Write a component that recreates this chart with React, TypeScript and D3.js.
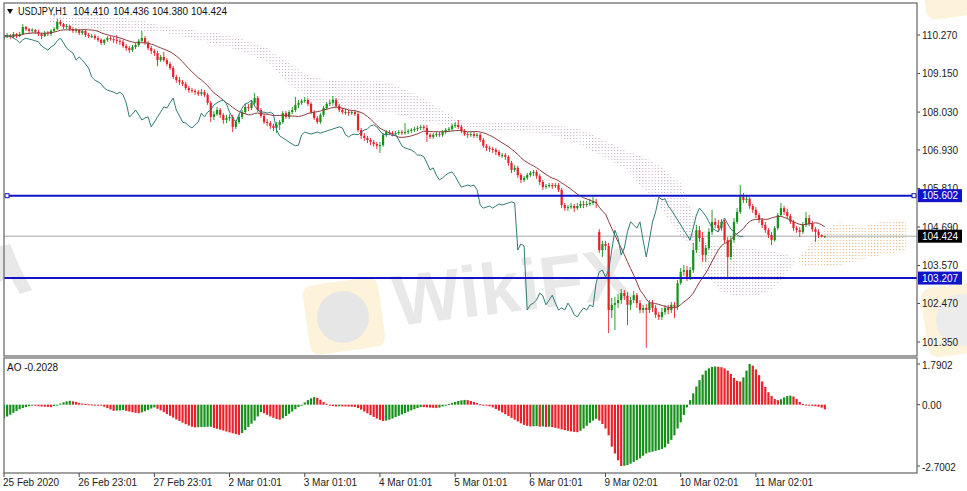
import React, { useEffect, useRef } from "react"
import * as d3 from "d3"

const symbol = "USDJPY,H1"
const lastBarText = ["104.410", "104.436", "104.380", "104.424"]
const aoLabel = "AO -0.2028"

// hourly closes, 25 Feb 2020 .. 11 Mar 2020
const closes = [
  110.21, 110.27, 110.21, 110.30, 110.24, 110.30, 110.50, 110.44, 110.39, 110.42,
  110.36, 110.30, 110.24, 110.33, 110.30, 110.39, 110.44, 110.65, 110.59, 110.50,
  110.53, 110.44, 110.39, 110.42, 110.33, 110.39, 110.27, 110.24, 110.24, 110.18,
  110.13, 110.04, 110.13, 110.18, 110.15, 110.13, 110.10, 110.07, 109.95, 109.89,
  109.83, 109.92, 109.98, 110.10, 110.18, 110.04, 109.89, 109.81, 109.75, 109.54,
  109.63, 109.54, 109.43, 109.31, 109.05, 108.96, 108.91, 108.85, 108.73, 108.67,
  108.64, 108.61, 108.56, 108.61, 108.53, 108.30, 107.89, 107.97, 108.09, 107.95,
  107.80, 107.86, 107.89, 107.60, 107.74, 107.89, 108.03, 108.18, 108.15, 108.30,
  108.44, 108.09, 107.92, 107.74, 107.71, 107.63, 107.57, 107.66, 107.74, 108.00,
  107.89, 108.03, 108.09, 108.24, 108.30, 108.35, 108.38, 108.27, 108.03, 107.86,
  107.74, 107.95, 108.15, 108.27, 108.30, 108.38, 108.21, 108.09, 108.03, 108.03,
  108.00, 108.03, 107.97, 107.51, 107.34, 107.28, 107.22, 107.16, 107.10, 107.05,
  107.07, 107.37, 107.45, 107.42, 107.39, 107.42, 107.45, 107.42, 107.45, 107.48,
  107.51, 107.54, 107.57, 107.60, 107.57, 107.37, 107.31, 107.37, 107.39, 107.37,
  107.45, 107.51, 107.54, 107.63, 107.66, 107.60, 107.48, 107.39, 107.37, 107.39,
  107.34, 107.37, 107.22, 107.05, 106.99, 106.96, 106.93, 106.87, 106.78, 106.78,
  106.73, 106.55, 106.35, 106.41, 106.20, 106.06, 106.12, 106.20, 106.26, 106.29,
  106.17, 106.00, 105.85, 105.88, 105.91, 105.88, 105.91, 105.77, 105.33, 105.24,
  105.27, 105.30, 105.24, 105.30, 105.36, 105.33, 105.36, 105.39, 105.42, 105.39,
  104.02, 104.20, 104.14, 102.28, 102.43, 102.48, 102.57, 102.77, 102.69, 102.43,
  102.57, 102.71, 102.48, 102.28, 102.34, 102.28, 102.48, 102.34, 102.14, 102.08,
  102.22, 102.34, 102.28, 102.43, 102.37, 103.06, 103.39, 103.44, 103.24, 103.44,
  104.02, 104.60, 104.37, 103.88, 104.08, 104.55, 104.84, 104.75, 104.66, 104.84,
  104.31, 103.82, 104.31, 104.84, 105.13, 105.56, 105.48, 105.51, 105.30, 105.19,
  105.04, 104.90, 104.75, 104.60, 104.46, 104.31, 104.66, 105.04, 105.24, 105.13,
  105.01, 104.84, 104.66, 104.60, 104.55, 104.75, 104.95, 104.78, 104.63, 104.55,
  104.46, 104.41, 104.424,
]

const highs = [
  110.27, 110.33, 110.30, 110.36, 110.33, 110.36, 110.59, 110.53, 110.47, 110.47,
  110.44, 110.42, 110.33, 110.39, 110.39, 110.44, 110.50, 110.74, 110.71, 110.62,
  110.59, 110.56, 110.50, 110.47, 110.44, 110.44, 110.42, 110.33, 110.30, 110.30,
  110.24, 110.18, 110.15, 110.24, 110.24, 110.21, 110.27, 110.15, 110.13, 110.01,
  109.95, 109.98, 110.04, 110.15, 110.39, 110.24, 110.10, 109.95, 109.86, 109.81,
  109.69, 109.78, 109.60, 109.49, 109.37, 109.11, 109.05, 108.96, 108.91, 108.79,
  108.73, 108.70, 108.67, 108.70, 108.67, 108.59, 108.35, 108.06, 108.18, 108.15,
  108.00, 107.95, 107.97, 107.95, 107.80, 107.97, 108.09, 108.27, 108.27, 108.38,
  108.59, 108.50, 108.15, 107.97, 107.83, 107.77, 107.69, 107.74, 107.80, 108.06,
  108.06, 108.09, 108.18, 108.47, 108.38, 108.41, 108.47, 108.44, 108.32, 108.09,
  107.92, 108.00, 108.21, 108.32, 108.38, 108.50, 108.44, 108.27, 108.15, 108.12,
  108.09, 108.09, 108.09, 108.03, 107.57, 107.42, 107.34, 107.28, 107.22, 107.16,
  107.16, 107.42, 107.51, 107.51, 107.48, 107.48, 107.51, 107.51, 107.71, 107.54,
  107.57, 107.60, 107.63, 107.66, 107.66, 107.66, 107.42, 107.42, 107.45, 107.45,
  107.51, 107.57, 107.60, 107.69, 107.74, 107.80, 107.66, 107.54, 107.45, 107.45,
  107.45, 107.42, 107.42, 107.28, 107.10, 107.05, 107.02, 106.99, 106.93, 106.84,
  106.84, 106.78, 106.61, 106.49, 106.47, 106.26, 106.17, 106.26, 106.32, 106.35,
  106.35, 106.23, 106.06, 105.94, 105.97, 105.97, 105.97, 105.97, 105.83, 105.39,
  105.33, 105.39, 105.36, 105.39, 105.45, 105.45, 105.45, 105.51, 105.56, 105.51,
  104.63, 104.29, 104.29, 104.23, 102.63, 102.66, 102.74, 102.89, 102.86, 102.80,
  102.66, 102.83, 102.77, 102.57, 102.43, 102.45, 102.57, 102.57, 102.43, 102.22,
  102.34, 102.43, 102.43, 102.51, 102.51, 103.15, 103.50, 103.59, 103.56, 103.53,
  104.23, 104.75, 104.72, 104.55, 104.17, 104.66, 105.19, 104.95, 104.90, 104.92,
  104.90, 104.40, 104.43, 104.95, 105.24, 105.91, 105.68, 105.62, 105.56, 105.36,
  105.27, 105.10, 104.95, 104.84, 104.66, 104.55, 104.72, 105.10, 105.39, 105.30,
  105.22, 105.07, 104.90, 104.72, 104.69, 104.84, 105.13, 105.04, 104.87, 104.69,
  104.63, 104.47, 104.436,
]

const lows = [
  110.13, 110.18, 110.15, 110.18, 110.18, 110.21, 110.27, 110.39, 110.33, 110.33,
  110.30, 110.24, 110.15, 110.21, 110.24, 110.24, 110.36, 110.42, 110.53, 110.44,
  110.44, 110.39, 110.33, 110.33, 110.27, 110.27, 110.21, 110.18, 110.18, 110.13,
  110.07, 109.98, 109.98, 110.07, 110.10, 110.04, 110.01, 109.98, 109.89, 109.81,
  109.75, 109.78, 109.86, 109.92, 110.07, 109.98, 109.83, 109.72, 109.66, 109.37,
  109.49, 109.49, 109.37, 109.25, 108.99, 108.88, 108.82, 108.79, 108.67, 108.59,
  108.59, 108.53, 108.50, 108.50, 108.47, 108.24, 107.74, 107.80, 107.92, 107.86,
  107.69, 107.71, 107.77, 107.45, 107.54, 107.69, 107.83, 107.97, 108.06, 108.09,
  108.24, 108.03, 107.86, 107.69, 107.63, 107.54, 107.48, 107.42, 107.51, 107.69,
  107.83, 107.83, 107.97, 108.03, 108.15, 108.24, 108.30, 108.21, 107.97, 107.80,
  107.69, 107.69, 107.89, 108.09, 108.21, 108.24, 108.15, 108.03, 107.97, 107.95,
  107.92, 107.95, 107.92, 107.45, 107.25, 107.19, 107.13, 107.07, 107.02, 106.96,
  106.84, 107.02, 107.31, 107.37, 107.34, 107.34, 107.37, 107.37, 107.37, 107.39,
  107.42, 107.45, 107.48, 107.51, 107.51, 107.16, 107.25, 107.25, 107.31, 107.31,
  107.31, 107.39, 107.45, 107.48, 107.57, 107.54, 107.42, 107.34, 107.28, 107.31,
  107.28, 107.28, 107.16, 106.99, 106.90, 106.87, 106.84, 106.78, 106.73, 106.70,
  106.64, 106.47, 106.26, 106.29, 106.12, 105.97, 106.00, 106.06, 106.15, 106.17,
  106.09, 105.91, 105.77, 105.80, 105.83, 105.80, 105.83, 105.71, 105.24, 105.16,
  105.16, 105.22, 105.13, 105.19, 105.24, 105.24, 105.27, 105.30, 105.33, 105.24,
  103.94, 103.82, 104.02, 101.61, 102.05, 101.70, 102.34, 102.45, 102.57, 101.84,
  102.28, 102.48, 102.34, 102.19, 102.19, 101.18, 102.19, 102.22, 102.05, 101.99,
  101.99, 102.14, 102.16, 102.19, 102.05, 102.28, 103.01, 103.27, 103.12, 103.15,
  103.36, 103.94, 104.26, 103.68, 103.68, 104.02, 104.46, 104.66, 104.55, 104.58,
  104.23, 103.24, 103.73, 104.23, 104.78, 105.07, 105.39, 105.39, 105.22, 105.10,
  104.95, 104.81, 104.66, 104.52, 104.37, 104.17, 104.26, 104.60, 104.98, 105.04,
  104.92, 104.78, 104.58, 104.52, 104.40, 104.49, 104.69, 104.72, 104.55, 104.26,
  104.37, 104.40, 104.38,
]

// an open is the previous close except at the first bar and the Monday gap
const gapOpens: Record<number, number> = { 0: 110.18, 190: 104.55 }

// Awesome Oscillator, one value per bar
const aoValues = [
  -0.60, -0.52, -0.44, -0.36, -0.28, -0.20, -0.15, -0.11, -0.07, -0.04,
  -0.05, -0.07, -0.08, -0.09, -0.10, -0.11, -0.06, -0.01, 0.05, 0.10,
  0.14, 0.17, 0.15, 0.12, 0.08, 0.05, 0.03, 0.02, 0.01, 0.00,
  -0.02, -0.04, -0.09, -0.15, -0.21, -0.27, -0.26, -0.25, -0.24, -0.27,
  -0.30, -0.33, -0.36, -0.38, -0.34, -0.29, -0.23, -0.17, -0.12, -0.18,
  -0.25, -0.33, -0.41, -0.49, -0.57, -0.65, -0.72, -0.79, -0.86, -0.92,
  -0.97, -1.00, -0.99, -0.985, -0.98, -0.975, -0.97, -1.02, -1.06, -1.10,
  -1.14, -1.18, -1.22, -1.26, -1.30, -1.33, -1.25, -1.12, -0.98, -0.84,
  -0.70, -0.52, -0.33, -0.38, -0.45, -0.52, -0.58, -0.63, -0.66, -0.60,
  -0.50, -0.40, -0.30, -0.20, -0.10, 0.00, 0.10, 0.20, 0.28, 0.33,
  0.30, 0.22, 0.12, 0.04, -0.03, -0.06, -0.08, -0.07, -0.075, -0.08,
  -0.085, -0.09, -0.10, -0.15, -0.22, -0.30, -0.38, -0.46, -0.54, -0.61,
  -0.67, -0.72, -0.70, -0.66, -0.61, -0.55, -0.49, -0.43, -0.37, -0.31,
  -0.25, -0.20, -0.15, -0.10, -0.11, -0.12, -0.13, -0.14, -0.15, -0.13,
  -0.08, -0.02, 0.03, 0.08, 0.12, 0.16, 0.19, 0.21, 0.20, 0.16,
  0.12, 0.07, 0.02, -0.02, -0.04, -0.07, -0.12, -0.19, -0.26, -0.34,
  -0.42, -0.50, -0.58, -0.66, -0.74, -0.82, -0.89, -0.93, -0.96, -0.95,
  -0.94, -0.97, -0.96, -0.98, -0.97, -0.99, -1.02, -1.05, -1.09, -1.12,
  -1.15, -1.18, -1.20, -1.21, -1.15, -1.05, -0.93, -0.80, -0.70, -0.62,
  -0.70, -0.85, -1.05, -1.35, -1.85, -2.15, -2.45, -2.7002, -2.69, -2.66,
  -2.60, -2.52, -2.44, -2.36, -2.25, -2.15, -2.10, -2.07, -2.03, -2.00,
  -1.95, -1.88, -1.72, -1.55, -1.35, -1.05, -0.78, -0.45, -0.12, 0.20,
  0.50, 0.80, 1.08, 1.32, 1.50, 1.60, 1.66, 1.68, 1.67, 1.65,
  1.60, 1.50, 1.35, 1.18, 1.05, 1.02, 1.20, 1.50, 1.7902, 1.72,
  1.55, 1.30, 1.02, 0.78, 0.55, 0.38, 0.25, 0.20, 0.24, 0.32,
  0.38, 0.40, 0.36, 0.25, 0.12, 0.03, -0.02, -0.04, -0.05, -0.07,
  -0.09, -0.13, -0.2028,
]

// Ichimoku cloud edges, sampled at these bars (projected 26 bars ahead)
const cloudBars = [14, 17, 24, 31, 43, 52, 59, 68, 75, 84, 91, 98, 104, 122, 132, 145, 153, 172, 183, 190,
  198, 203, 209, 216, 220, 224, 229, 235, 241, 246, 250, 253, 256, 259, 263, 267, 273, 280, 284, 288]
const senkouA = [110.59, 110.56, 110.47, 110.36, 110.36, 110.33, 110.18, 109.98, 109.83, 109.49,
  108.82, 108.38, 108.15, 108.03, 107.80, 107.60, 107.51, 107.42, 107.13, 106.78,
  106.41, 105.91, 105.33, 104.40, 104.17, 103.30, 102.80, 102.66, 102.72, 102.92,
  103.39, 103.73, 104.02, 104.40, 104.66, 104.84, 104.69, 104.84, 104.90, 104.84]
const senkouB = [110.71, 110.79, 110.85, 110.85, 110.71, 110.50, 110.42, 110.33, 110.18, 109.89,
  109.46, 109.05, 108.96, 108.91, 108.53, 107.80, 107.74, 107.69, 107.57, 107.28,
  106.93, 106.78, 106.49, 105.97, 105.04, 104.23, 104.17, 104.11, 104.02, 103.97,
  103.88, 103.73, 103.53, 103.53, 103.53, 103.59, 103.73, 103.88, 103.94, 104.02]

const priceTicks = [110.27, 109.15, 108.03, 106.93, 105.81, 104.69, 103.57, 102.47, 101.35]
const aoTicks = [1.7902, 0, -2.7002]
const timeTickBars = [0, 24, 48, 72, 96, 120, 144, 168, 192, 216, 240]
const timeLabels = ["25 Feb 2020", "26 Feb 23:01", "27 Feb 23:01", "2 Mar 01:01", "3 Mar 01:01",
  "4 Mar 01:01", "5 Mar 01:01", "6 Mar 01:01", "9 Mar 02:01", "10 Mar 02:01", "11 Mar 02:01"]

const levelLines = [105.602, 103.207]
const bidPrice = 104.424
const maPeriod = 14
const chikouShift = 26

const W = 967
const H = 491
const font = "'Liberation Sans', Arial, sans-serif"
const bullColor = "#16901a"
const bearColor = "#e8202a"
const levelColor = "#1212c8"

function drawChart(el: SVGSVGElement) {
  const svg = d3.select(el)
  svg.selectAll("*").remove()

  const x = d3.scaleLinear().domain([0, 240]).range([4, 755.9])
  const y = d3.scaleLinear().domain([101.35, 110.27]).range([342, 35])
  const yAo = d3.scaleLinear().domain([-2.7002, 1.7902]).range([466, 364])
  const step = x(1) - x(0)

  const defs = svg.append("defs")
  defs.append("clipPath").attr("id", "mainClip")
    .append("rect").attr("x", 4).attr("y", 3).attr("width", 913).attr("height", 353)
  defs.append("clipPath").attr("id", "aoClip")
    .append("rect").attr("x", 4).attr("y", 358).attr("width", 913).attr("height", 115)
  const dots = (id, color) => {
    const p = defs.append("pattern").attr("id", id)
      .attr("patternUnits", "userSpaceOnUse").attr("width", step).attr("height", 3)
    p.append("rect").attr("width", 1.1).attr("height", 1.1).attr("fill", color)
  }
  dots("cloudBear", "#c9b2c6")
  dots("cloudBull", "#e2b683")

  // watermark
  const wm = svg.append("g")
  wm.append("rect").attr("x", 306).attr("y", 281).attr("width", 76).attr("height", 70).attr("rx", 10)
    .attr("fill", "#fcf3da").attr("transform", "rotate(-8 344 316)")
  wm.append("circle").attr("cx", 343).attr("cy", 317).attr("r", 26).attr("fill", "#e6e6e6")
  wm.append("rect").attr("x", 924).attr("y", 284).attr("width", 76).attr("height", 70).attr("rx", 10)
    .attr("fill", "#fcf3da").attr("transform", "rotate(-8 960 318)")
  wm.append("circle").attr("cx", 962).attr("cy", 320).attr("r", 26).attr("fill", "#ececec")
  wm.append("rect").attr("x", 922).attr("y", -56).attr("width", 76).attr("height", 72).attr("rx", 10)
    .attr("fill", "#fcf3da").attr("transform", "rotate(-8 960 -20)")
  wm.append("text").attr("x", 396).attr("y", 326).attr("font-family", font).attr("font-size", 72)
    .attr("font-weight", 700).attr("fill", "#e8e8e8").attr("transform", "rotate(-7 396 326)").text("WikiFX")
  wm.append("path").attr("d", "M0,246 L10,244 L20,268 L32,290 L20,294 L10,276 L0,282 Z").attr("fill", "#e8e8e8")

  // main price panel
  const main = svg.append("g").attr("clip-path", "url(#mainClip)")

  const cloud = cloudBars.map((b, k) => ({ b, a: senkouA[k], s: senkouB[k] }))
  const cross = cloud.findIndex(d => d.a >= d.s)
  const area = d3.area<any>().x(d => x(d.b)).y0(d => y(d.a)).y1(d => y(d.s))
  main.append("path").attr("d", area(cloud.slice(0, cross + 1))).attr("fill", "url(#cloudBear)")
  main.append("path").attr("d", area(cloud.slice(cross))).attr("fill", "url(#cloudBull)")

  main.append("line").attr("x1", 4).attr("x2", 917).attr("y1", y(bidPrice)).attr("y2", y(bidPrice))
    .attr("stroke", "#a8a8a8").attr("stroke-width", 1)

  const opens = closes.map((c, i) => (gapOpens[i] !== undefined ? gapOpens[i] : closes[i - 1]))
  const candles = main.append("g")
  closes.forEach((c, i) => {
    const o = opens[i]
    const color = c >= o ? bullColor : bearColor
    const cx = x(i)
    const hi = Math.max(highs[i], o, c)
    const lo = Math.min(lows[i], o, c)
    candles.append("rect").attr("x", cx - 0.45).attr("width", 0.9)
      .attr("y", y(hi)).attr("height", y(lo) - y(hi)).attr("fill", color)
    const top = y(Math.max(o, c))
    const h = Math.max(1, Math.abs(y(o) - y(c)))
    candles.append("rect").attr("x", cx - 1.1).attr("width", 2.2).attr("y", top).attr("height", h).attr("fill", color)
  })

  const ma = closes.map((_, i) => d3.mean(closes.slice(Math.max(0, i - maPeriod + 1), i + 1)) as number)
  const line = d3.line<number>().x((_, i) => x(i)).y(d => y(d))
  main.append("path").attr("d", line(ma)).attr("fill", "none").attr("stroke", "#8e3b3b").attr("stroke-width", 1)

  const chikou = closes.slice(chikouShift)
  main.append("path").attr("d", line(chikou)).attr("fill", "none").attr("stroke", "#2f7b78").attr("stroke-width", 1)

  levelLines.forEach(p => {
    main.append("line").attr("x1", 4).attr("x2", 917).attr("y1", y(p)).attr("y2", y(p))
      .attr("stroke", levelColor).attr("stroke-width", 2)
  })
  main.append("rect").attr("x", 5).attr("y", y(levelLines[0]) - 2).attr("width", 4).attr("height", 4)
    .attr("fill", "#fff").attr("stroke", levelColor).attr("stroke-width", 1)
  main.append("rect").attr("x", 912).attr("y", y(levelLines[0]) - 2).attr("width", 4).attr("height", 4)
    .attr("fill", "#fff").attr("stroke", levelColor).attr("stroke-width", 1)

  // header
  svg.append("path").attr("d", "M7,9 L13,9 L10,14 Z").attr("fill", "#111")
  svg.append("text").attr("x", 18).attr("y", 15).attr("font-family", font).attr("font-size", 10)
    .attr("fill", "#111").attr("textLength", 49).attr("lengthAdjust", "spacingAndGlyphs").text(symbol)
  const headX = [73, 113, 152, 191]
  lastBarText.forEach((t, k) => {
    svg.append("text").attr("x", headX[k]).attr("y", 15).attr("font-family", font)
      .attr("font-size", 10).attr("fill", "#111").text(t)
  })

  // right price axis
  const axis = svg.append("g").attr("font-family", font).attr("font-size", 10).attr("fill", "#222")
  priceTicks.forEach(p => {
    axis.append("line").attr("x1", 917).attr("x2", 920).attr("y1", y(p)).attr("y2", y(p)).attr("stroke", "#444")
    axis.append("text").attr("x", 922).attr("y", y(p) + 3.6).text(p.toFixed(3))
  })
  const boxLabel = (p, fill) => {
    axis.append("rect").attr("x", 918).attr("y", y(p) - 6.5).attr("width", 44).attr("height", 13).attr("fill", fill)
    axis.append("text").attr("x", 922).attr("y", y(p) + 3.6).attr("fill", "#fff").text(p.toFixed(3))
  }
  levelLines.forEach(p => boxLabel(p, levelColor))
  boxLabel(bidPrice, "#000")

  // AO panel
  const aoG = svg.append("g").attr("clip-path", "url(#aoClip)")
  aoValues.forEach((v, i) => {
    const up = i === 0 || v > aoValues[i - 1]
    const y0 = yAo(0)
    const y1 = yAo(v)
    aoG.append("rect").attr("x", x(i) - 1.1).attr("width", 2.2)
      .attr("y", Math.min(y0, y1)).attr("height", Math.max(1, Math.abs(y1 - y0)))
      .attr("fill", up ? bullColor : bearColor)
  })
  svg.append("text").attr("x", 7).attr("y", 371).attr("font-family", font).attr("font-size", 10)
    .attr("fill", "#111").text(aoLabel)
  aoTicks.forEach(v => {
    axis.append("line").attr("x1", 917).attr("x2", 920).attr("y1", yAo(v)).attr("y2", yAo(v)).attr("stroke", "#444")
    axis.append("text").attr("x", 922).attr("y", yAo(v) + 4.5).text(v === 0 ? "0.00" : v.toFixed(4))
  })

  // frames
  svg.append("rect").attr("x", 4).attr("y", 3).attr("width", 913).attr("height", 353)
    .attr("fill", "none").attr("stroke", "#6f6f6f").attr("stroke-width", 1.3)
  svg.append("rect").attr("x", 4).attr("y", 358).attr("width", 913).attr("height", 115)
    .attr("fill", "none").attr("stroke", "#6f6f6f").attr("stroke-width", 1.3)

  // time axis
  timeTickBars.forEach((b, k) => {
    svg.append("line").attr("x1", x(b)).attr("x2", x(b)).attr("y1", 473).attr("y2", 477).attr("stroke", "#444")
    svg.append("text").attr("x", x(b) - 1).attr("y", 486).attr("font-family", font).attr("font-size", 10)
      .attr("fill", "#222").text(timeLabels[k])
  })
}

export default function App() {
  const ref = useRef<SVGSVGElement>(null)
  useEffect(() => {
    if (ref.current) drawChart(ref.current)
  }, [])
  return (
    <div>
      <style>{"html,body{margin:0;padding:0;background:#fff}"}</style>
      <svg ref={ref} width={W} height={H} style={{ display: "block" }} />
    </div>
  )
}
